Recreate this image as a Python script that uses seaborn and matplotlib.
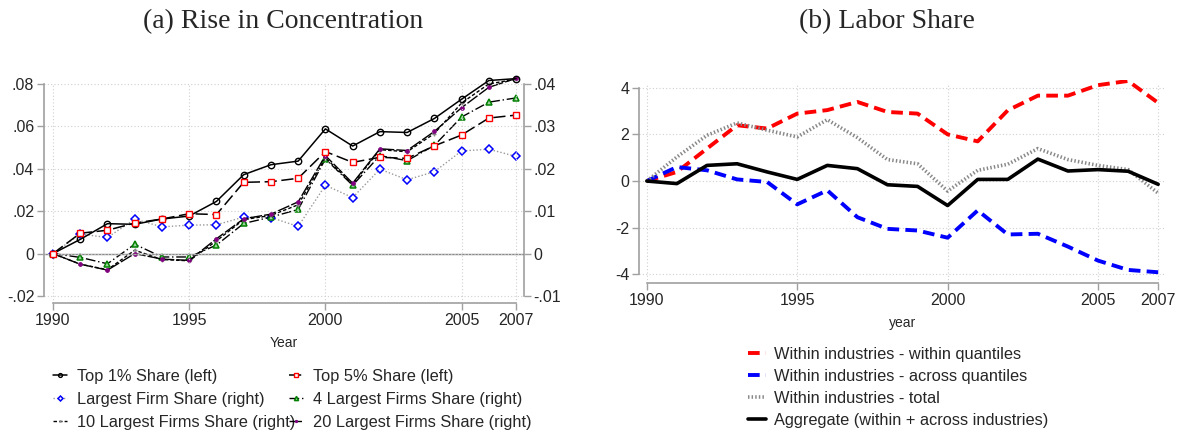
import matplotlib
matplotlib.use("Agg")
import matplotlib.pyplot as plt
import pandas as pd
import seaborn as sns

years = list(range(1990, 2008))

# (a) left axis series
top1 = [0, 0.0067, 0.0141, 0.0138, 0.0163, 0.0177, 0.0246, 0.0372, 0.0419, 0.0436,
        0.0588, 0.0507, 0.0575, 0.0571, 0.0637, 0.0728, 0.0816, 0.0825]
top5 = [0, 0.0096, 0.0110, 0.0144, 0.0163, 0.0188, 0.0184, 0.0336, 0.0339, 0.0355,
        0.0481, 0.0430, 0.0454, 0.0449, 0.0508, 0.0559, 0.0639, 0.0653]
# (a) right axis series
largest1 = [0, 0.0046, 0.0038, 0.0081, 0.0063, 0.0067, 0.0068, 0.0086, 0.0085, 0.0064,
            0.0161, 0.0132, 0.0199, 0.0174, 0.0193, 0.0242, 0.0246, 0.0229]
largest4 = [0, -0.0009, -0.0024, 0.0022, -0.0008, -0.0008, 0.0020, 0.0071, 0.0086, 0.0104,
            0.0223, 0.0161, 0.0231, 0.0219, 0.0255, 0.0322, 0.0357, 0.0367]
largest10 = [0, -0.0025, -0.0038, 0.0008, -0.0014, -0.0017, 0.0030, 0.0080, 0.0090, 0.0115,
             0.0226, 0.0163, 0.0245, 0.0240, 0.0283, 0.0355, 0.0400, 0.0411]
largest20 = [0, -0.0025, -0.0039, 0.0000, -0.0013, -0.0016, 0.0035, 0.0082, 0.0093, 0.0122,
             0.0231, 0.0166, 0.0247, 0.0243, 0.0288, 0.0344, 0.0392, 0.0413]

# (b) labor share decomposition
within_within = [0, 0.39, 1.39, 2.39, 2.25, 2.89, 3.04, 3.39, 2.96, 2.89,
                 2.00, 1.70, 3.03, 3.66, 3.66, 4.11, 4.29, 3.35]
within_across = [0, 0.60, 0.46, 0.07, -0.04, -1.00, -0.40, -1.55, -2.05, -2.12,
                 -2.43, -1.26, -2.29, -2.26, -2.81, -3.41, -3.81, -3.91]
within_total = [0, 1.03, 1.96, 2.49, 2.18, 1.89, 2.63, 1.86, 0.92, 0.74,
                -0.43, 0.46, 0.72, 1.39, 0.92, 0.67, 0.49, -0.52]
aggregate = [0, -0.11, 0.67, 0.74, 0.39, 0.07, 0.67, 0.53, -0.16, -0.23,
             -1.05, 0.07, 0.07, 0.94, 0.43, 0.49, 0.42, -0.14]

sns.set_style("white")
plt.rcParams["font.family"] = ["Liberation Sans", "DejaVu Sans"]

W, H = 1184, 432
fig = plt.figure(figsize=(W / 100, H / 100), dpi=100)


def box(x0, x1, y0, y1):
    return [x0 / W, 1 - y1 / H, (x1 - x0) / W, (y1 - y0) / H]


grid_kw = dict(color="#d0d0d0", linestyle=(0, (1, 2)), linewidth=0.8)
spine_c = "#a0a0a0"
tick_fs = 11.5
title_font = ["Liberation Serif", "DejaVu Serif"]

# ---------------- panel (a) ----------------
ax = fig.add_axes(box(44, 524, 75, 303))
ax2 = ax.twinx()
ax.set_xlim(1989.67, 2007.29)
ylo, yhi = -0.0233, 0.0842
ax.set_ylim(ylo, yhi)
ax2.set_ylim(ylo / 2, yhi / 2)

ax.set_zorder(ax2.get_zorder() + 1)
ax.patch.set_visible(False)

dfa = pd.DataFrame({"year": years, "top1": top1, "top5": top5})
dfb = pd.DataFrame({"year": years, "l1": largest1, "l4": largest4,
                    "l10": largest10, "l20": largest20})

sns.lineplot(data=dfb, x="year", y="l1", ax=ax2, color="#999999", linestyle=(0, (1, 1.5)),
             lw=1.0, marker="D", ms=4.2, mfc="white", mec="blue", mew=1.1,
             label="Largest Firm Share (right)")
sns.lineplot(data=dfb, x="year", y="l4", ax=ax2, color="black", linestyle=(0, (7, 2, 1, 2)),
             lw=1.0, marker="^", ms=5, mfc="#9fd49f", mec="green", mew=1.1,
             label="4 Largest Firms Share (right)")
sns.lineplot(data=dfb, x="year", y="l10", ax=ax2, color="black", linestyle=(0, (2.5, 1.5)),
             lw=1.0, marker="+", ms=3.5, mec="#888888", mew=1.0,
             label="10 Largest Firms Share (right)")
sns.lineplot(data=dfb, x="year", y="l20", ax=ax2, color="black", linestyle=(0, (9, 1.5)),
             lw=1.0, marker="o", ms=2.6, mfc="purple", mec="purple",
             label="20 Largest Firms Share (right)")

sns.lineplot(data=dfa, x="year", y="top1", ax=ax, color="black", lw=1.1,
             marker="o", ms=4.6, mfc="none", mec="black", mew=1.0,
             label="Top 1% Share (left)")
sns.lineplot(data=dfa, x="year", y="top5", ax=ax, color="black", lw=1.1,
             linestyle=(0, (8, 3)), marker="s", ms=4.4, mfc="white", mec="red", mew=1.0,
             label="Top 5% Share (left)")

ax.axhline(0, color="#888888", lw=1.0, zorder=0)
for v in [-0.02, 0, 0.02, 0.04, 0.06, 0.08]:
    ax.axhline(v, **grid_kw, zorder=0)
for v in [1990, 1995, 2000, 2005, 2007]:
    ax.axvline(v, ymax=(0.08 - ylo) / (yhi - ylo), **grid_kw, zorder=0)

ax.set_xticks([1990, 1995, 2000, 2005, 2007])
ax.set_yticks([-0.02, 0, 0.02, 0.04, 0.06, 0.08])
ax.set_yticklabels(["-.02", "0", ".02", ".04", ".06", ".08"])
ax2.set_yticks([-0.01, 0, 0.01, 0.02, 0.03, 0.04])
ax2.set_yticklabels(["-.01", "0", ".01", ".02", ".03", ".04"])
ax.set_xlabel("Year", fontsize=10, labelpad=6)
ax.set_ylabel("")
ax2.set_ylabel("")

for a in (ax, ax2):
    for s in a.spines.values():
        s.set_visible(False)
ax.spines["left"].set_visible(True)
ax.spines["left"].set_bounds(-0.02, 0.08)
ax.spines["bottom"].set_visible(True)
ax.spines["bottom"].set_bounds(1990, 2007)
ax2.spines["right"].set_visible(True)
ax2.spines["right"].set_bounds(-0.01, 0.04)
for a in (ax, ax2):
    for s in a.spines.values():
        s.set_color(spine_c)
        s.set_linewidth(1.2)
    a.tick_params(length=5, width=1.0, color=spine_c, labelsize=tick_fs, pad=2)
ax.tick_params(axis="y", left=True)
ax.tick_params(axis="x", bottom=True)
ax2.tick_params(axis="y", right=True)

h1, l1 = ax.get_legend_handles_labels()
h2, l2 = ax2.get_legend_handles_labels()
ax2.get_legend().remove()
ax.get_legend().remove()
handles = [h1[0], h2[0], h2[2], h1[1], h2[1], h2[3]]
labels = [l1[0], l2[0], l2[2], l1[1], l2[1], l2[3]]
fig.legend(handles, labels, ncol=2, loc="upper left", bbox_to_anchor=(45 / W, 1 - 361 / H),
           frameon=False, fontsize=11.8, handlelength=0.85, handletextpad=0.6,
           columnspacing=-0.35, labelspacing=0.48, borderpad=0, markerscale=0.6)

fig.text(283 / W, 1 - 22 / H, "(a) Rise in Concentration", ha="center", va="center",
         fontsize=20, family=title_font)

# ---------------- panel (b) ----------------
bx = fig.add_axes(box(639, 1166, 80, 283))
dfl = pd.DataFrame({"year": years, "ww": within_within, "wa": within_across,
                    "wt": within_total, "agg": aggregate})
sns.lineplot(data=dfl, x="year", y="ww", ax=bx, color="red", lw=2.8, linestyle=(0, (3, 1.6)),
             label="Within industries - within quantiles")
sns.lineplot(data=dfl, x="year", y="wa", ax=bx, color="blue", lw=2.8, linestyle=(0, (3, 1.6)),
             label="Within industries - across quantiles")
sns.lineplot(data=dfl, x="year", y="wt", ax=bx, color="#888888", lw=2.6, linestyle=(0, (0.4, 0.6)),
             label="Within industries - total")
sns.lineplot(data=dfl, x="year", y="agg", ax=bx, color="black", lw=2.6,
             label="Aggregate (within + across industries)")
bx.set_xlim(1989.74, 2007.26)
bylo, byhi = -4.37, 4.33
bx.set_ylim(bylo, byhi)
for v in [-4, -2, 0, 2, 4]:
    bx.axhline(v, **grid_kw, zorder=0)
for v in [1990, 1995, 2000, 2005, 2007]:
    bx.axvline(v, ymax=(4.1 - bylo) / (byhi - bylo), **grid_kw, zorder=0)
bx.set_xticks([1990, 1995, 2000, 2005, 2007])
bx.set_yticks([-4, -2, 0, 2, 4])
bx.set_yticklabels(["-4", "-2", "0", "2", "4"])
bx.set_xlabel("year", fontsize=10, labelpad=6)
bx.set_ylabel("")
for s in bx.spines.values():
    s.set_visible(False)
bx.spines["left"].set_visible(True)
bx.spines["left"].set_bounds(-4, 4)
bx.spines["bottom"].set_visible(True)
bx.spines["bottom"].set_bounds(1990, 2007)
for s in bx.spines.values():
    s.set_color(spine_c)
    s.set_linewidth(1.2)
bx.tick_params(length=5, width=1.0, color=spine_c, labelsize=tick_fs, pad=2, left=True, bottom=True)

hb, lb = bx.get_legend_handles_labels()
bx.get_legend().remove()
fig.legend(hb, lb, ncol=1, loc="upper left", bbox_to_anchor=(740 / W, 1 - 339 / H),
           frameon=False, fontsize=11.8, handlelength=1.1, handletextpad=0.5,
           labelspacing=0.42, borderpad=0)

fig.text(887 / W, 1 - 22 / H, "(b) Labor Share", ha="center", va="center",
         fontsize=20, family=title_font)

fig.savefig("out.png", dpi=100)
